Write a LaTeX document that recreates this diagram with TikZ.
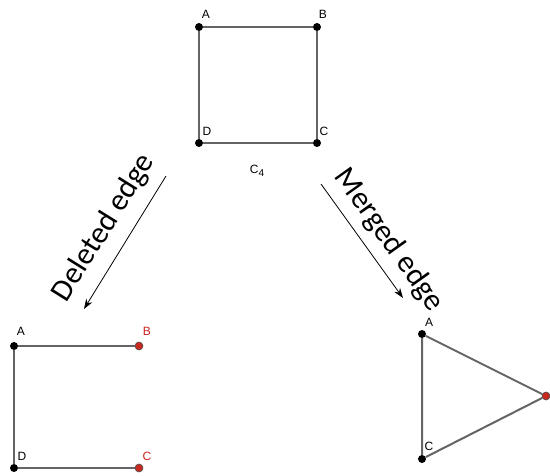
\documentclass[tikz,border=0pt]{standalone}
\usepackage{fontspec}
\setmainfont{Liberation Sans}
\newfontfamily\calfont{Carlito}
\usetikzlibrary{arrows.meta}
\definecolor{edgegray}{RGB}{100,100,100}
\definecolor{dotred}{RGB}{200,40,30}
\definecolor{labred}{RGB}{205,35,30}
\tikzset{
  vtx/.style={circle,fill=black,inner sep=0pt,minimum size=8pt},
  rvtx/.style={circle,fill=dotred,draw=black!70,line width=0.6pt,inner sep=0pt,minimum size=8pt},
  gedge/.style={draw=edgegray,line width=2pt},
  lab/.style={font=\fontsize{12}{14}\selectfont,inner sep=0pt},
  rlab/.style={lab,text=labred},
  bigtxt/.style={font=\calfont\fontsize{31}{36}\selectfont,inner sep=0pt},
  op/.style={draw=black,line width=0.8pt,-{Stealth[length=10pt,width=7pt]}}
}
\begin{document}
\begin{tikzpicture}[x=1pt,y=-1pt]
\useasboundingbox (0,0) rectangle (550,476);
% top square C4
\node[vtx] (A) at (199,27) {};
\node[vtx] (B) at (317,27) {};
\node[vtx] (C) at (317,143) {};
\node[vtx] (D) at (199,143) {};
\draw[gedge] (A) -- (B) -- (C) -- (D) -- (A);
\node[lab] (lA) at (206,14) {A};
\node[lab] (lB) at (323,14) {B};
\node[lab] (lC) at (324,131) {C};
\node[lab] (lD) at (207,131) {D};
\node[lab] (c4) at (257,171) {C\raisebox{-3pt}{\fontsize{10}{12}\selectfont 4}};
% deleted edge result
\node[vtx] (A2) at (14,346) {};
\node[rvtx] (B2) at (139,346) {};
\node[rvtx] (C2) at (139,468) {};
\node[vtx] (D2) at (14,468) {};
\draw[gedge] (B2) -- (A2) -- (D2) -- (C2);
\node[lab] (lA2) at (21,331) {A};
\node[rlab] (lB2) at (147,331) {B};
\node[rlab] (lC2) at (147,456) {C};
\node[lab] (lD2) at (22,456) {D};
% merged edge result
\node[vtx] (A3) at (422,334) {};
\node[vtx] (C3) at (422,459) {};
\node[rvtx] (M3) at (546,396) {};
\draw[gedge] (A3) -- (M3) -- (C3) -- (A3);
\node[lab] (lA3) at (429,322) {A};
\node[lab] (lC3) at (429,446) {C};
% operation arrows
\coordinate (d1) at (166,176);
\coordinate (d2) at (84,309);
\draw[op] (d1) -- (d2);
\node[bigtxt,rotate=58] (dtext) at (104,228) {Deleted edge};
\coordinate (m1) at (321,184);
\coordinate (m2) at (403,298);
\draw[op] (m1) -- (m2);
\node[bigtxt,rotate=-54.5] (mtext) at (389,240) {Merged edge};
\end{tikzpicture}
\end{document}
